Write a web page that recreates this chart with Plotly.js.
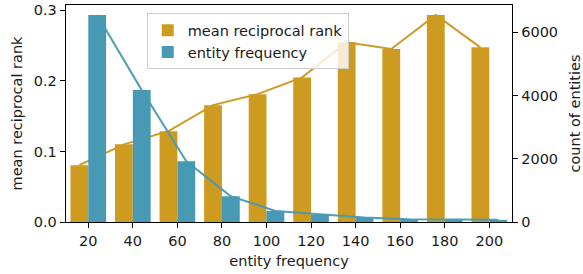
<!DOCTYPE html>
<html>
<head>
<meta charset="utf-8">
<script src="https://cdn.plot.ly/plotly-3.0.1.min.js"></script>
<style>html,body{margin:0;padding:0;background:#fff}#chart{width:583px;height:274px}</style>
</head>
<body>
<div id="chart"></div>
<script>
// Data
const entityFreq = [20, 40, 60, 80, 100, 120, 140, 160, 180, 200];
const meanReciprocalRank = [0.0805, 0.110, 0.1287, 0.1656, 0.1812, 0.2049, 0.2546, 0.2451, 0.2933, 0.2475];
const entityCount = [6548, 4172, 1923, 814, 350, 234, 140, 90, 76, 70];
const xTickLabels = ['20', '40', '60', '80', '100', '120', '140', '160', '180', '200'];

const barW = 8;
const orange = '#CE9B21';
const blue = '#4799B4';
const font = {family: 'DejaVu Sans, sans-serif', size: 14.5, color: '#1a1a1a'};

const traces = [
  {type: 'bar', name: 'mean reciprocal rank', x: entityFreq, y: meanReciprocalRank,
   width: barW, offset: -barW, marker: {color: orange}, yaxis: 'y', xaxis: 'x'},
  {type: 'scatter', mode: 'lines', showlegend: false, x: entityFreq.map(v => v - barW / 2),
   y: meanReciprocalRank, line: {color: orange, width: 2}, yaxis: 'y', xaxis: 'x'},
  {type: 'bar', name: 'entity frequency', x: entityFreq, y: entityCount,
   width: barW, offset: 0, marker: {color: blue}, yaxis: 'y2', xaxis: 'x'},
  {type: 'scatter', mode: 'lines', showlegend: false, x: entityFreq.map(v => v + barW / 2),
   y: entityCount, line: {color: blue, width: 2}, opacity: 0.95, yaxis: 'y2', xaxis: 'x'}
];

const layout = {
  width: 583, height: 274,
  margin: {l: 66, r: 71, t: 5, b: 52},
  paper_bgcolor: '#fff', plot_bgcolor: '#fff',
  font: font,
  barmode: 'overlay',
  showlegend: true,
  legend: {x: 0.181, y: 0.962, xanchor: 'left', yanchor: 'top',
           bgcolor: 'rgba(255,255,255,0.8)', bordercolor: '#cccccc', borderwidth: 1,
           font: {family: font.family, size: 14.5, color: '#1a1a1a'}, traceorder: 'normal'},
  xaxis: {range: [10, 210.2], tickmode: 'array', tickvals: entityFreq, ticktext: xTickLabels,
          showgrid: false, zeroline: false, showline: true, linecolor: '#000', linewidth: 1.3,
          mirror: true, ticks: 'outside', ticklen: 5, tickcolor: '#000', tickwidth: 1,
          title: {text: 'entity frequency', font: font, standoff: 8}},
  yaxis: {range: [0, 0.3075], tickvals: [0, 0.1, 0.2, 0.3], ticktext: ['0.0', '0.1', '0.2', '0.3'],
          showgrid: false, zeroline: false, showline: true, linecolor: '#000', linewidth: 1.3,
          ticks: 'outside', ticklen: 5, tickcolor: '#000',
          title: {text: 'mean reciprocal rank', font: font, standoff: 7}},
  yaxis2: {range: [0, 6865], overlaying: 'y', side: 'right', tickvals: [0, 2000, 4000, 6000],
           showgrid: false, zeroline: false, showline: true, linecolor: '#000', linewidth: 1.3,
           ticks: 'outside', ticklen: 5, tickcolor: '#000',
           title: {text: 'count of entities', font: font, standoff: 12}}
};

Plotly.newPlot('chart', traces, layout, {displayModeBar: false, staticPlot: true});
</script>
</body>
</html>
